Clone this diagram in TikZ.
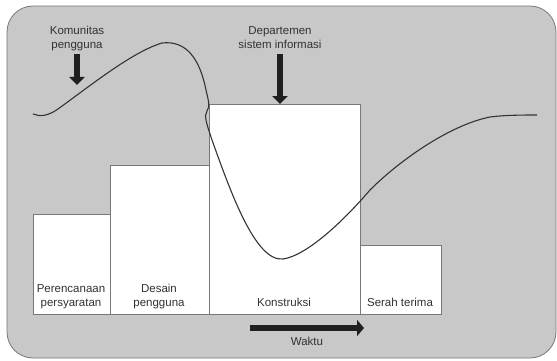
\documentclass[tikz,border=0pt]{standalone}
\usepackage{fontspec}
\setmainfont{Liberation Sans}
\usetikzlibrary{arrows.meta}
\definecolor{bggray}{RGB}{200,200,200}
\definecolor{edgegray}{RGB}{120,120,120}
\definecolor{txt}{RGB}{50,50,50}
\begin{document}
\begin{tikzpicture}[x=1pt,y=-1pt,
  phase/.style={draw=edgegray,fill=white,line width=0.8pt},
  lbl/.style={text=txt,font=\fontsize{11.5}{14}\selectfont,align=center,inner sep=0pt},
  bigarrow/.style={line width=5.5pt,draw=black!88,-{Triangle[length=8pt,width=15pt]}},
  curve/.style={line width=1.1pt,draw=black!80}]
\useasboundingbox (0,0) rectangle (557,361);
\draw[draw=edgegray,fill=bggray,line width=0.8pt,rounded corners=26pt] (7,6) rectangle (556,358);
% phase boxes
\draw[phase] (33,214) rectangle (110,314);
\draw[phase] (110,165) rectangle (209,314);
\draw[phase] (209,104) rectangle (360,314);
\draw[phase] (360,245) rectangle (441,314);
% labels
\node[lbl,anchor=base] (plan) at (71,306) {Perencanaan\\persyaratan};
\node[lbl,anchor=base] (des) at (159,306) {Desain\\pengguna};
\node[lbl,anchor=base] (kon) at (284,306) {Konstruksi};
\node[lbl,anchor=base] (ser) at (400,306) {Serah terima};
% top labels and arrows
\node[lbl,anchor=base] (kom) at (77,49) {Komunitas\\pengguna};
\node[lbl,anchor=base] (dep) at (280,49) {Departemen\\sistem informasi};
\coordinate (komA) at (77,54);
\coordinate (komB) at (77,85);
\coordinate (depA) at (280,54);
\coordinate (depB) at (280,104);
\draw[bigarrow] (komA) -- (komB);
\draw[bigarrow] (depA) -- (depB);
% time arrow
\coordinate (wA) at (250,328);
\coordinate (wB) at (364,328);
\draw[bigarrow,line width=6pt,-{Triangle[length=7pt,width=16pt]}] (wA) -- (wB);
\node[lbl,anchor=base] (waktu) at (307,345) {Waktu};
% curve
\draw[curve] (33,114) .. controls (40,117) and (48,116) .. (58,109)
  .. controls (90,86) and (132,52) .. (162,43)
  .. controls (187,40) and (200,60) .. (206,90)
  .. controls (209,103) and (210,106) .. (207,111)
  .. controls (204,116) and (206,122) .. (212,140)
  .. controls (230,190) and (255,262) .. (283,259)
  .. controls (305,256) and (340,225) .. (370,190)
  .. controls (400,160) and (450,125) .. (490,117)
  .. controls (505,115) and (525,115) .. (537,115);
\end{tikzpicture}
\end{document}
